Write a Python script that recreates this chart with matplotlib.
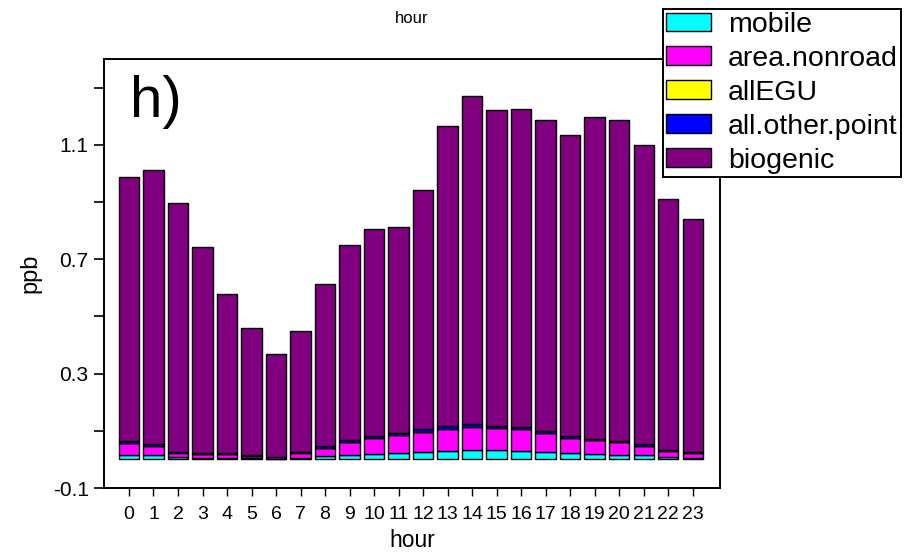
import matplotlib
matplotlib.use("Agg")
import matplotlib.pyplot as plt
import numpy as np
from matplotlib.ticker import FixedLocator

plt.rcParams['font.family'] = ['Liberation Sans', 'DejaVu Sans']

hours = list(range(24))
totals = [0.987, 1.013, 0.896, 0.744, 0.579, 0.458, 0.369, 0.450, 0.614, 0.750,
          0.805, 0.814, 0.941, 1.167, 1.269, 1.223, 1.226, 1.187, 1.133, 1.198,
          1.186, 1.101, 0.909, 0.839]
mobile = [0.016, 0.014, 0.007, 0.006, 0.006, 0.005, 0.003, 0.006, 0.012, 0.016,
          0.020, 0.023, 0.027, 0.030, 0.033, 0.034, 0.030, 0.027, 0.023, 0.020,
          0.017, 0.014, 0.008, 0.006]
area_nonroad = [0.041, 0.034, 0.017, 0.013, 0.012, 0.007, 0.004, 0.015, 0.029, 0.044,
                0.054, 0.062, 0.070, 0.077, 0.081, 0.075, 0.075, 0.065, 0.051, 0.047,
                0.043, 0.034, 0.021, 0.016]
allEGU = [0.0005] * 24
all_other_point = [0.006, 0.004, 0.003, 0.003, 0.003, 0.002, 0.002, 0.003, 0.004, 0.006,
                   0.007, 0.007, 0.008, 0.010, 0.009, 0.008, 0.008, 0.007, 0.007, 0.005,
                   0.005, 0.004, 0.003, 0.002]
biogenic = [t - m - a - e - o for t, m, a, e, o in
            zip(totals, mobile, area_nonroad, allEGU, all_other_point)]

series = [("mobile", mobile, "#00FFFF"),
          ("area.nonroad", area_nonroad, "#FF00FF"),
          ("allEGU", allEGU, "#FFFF00"),
          ("all.other.point", all_other_point, "#0000FF"),
          ("biogenic", biogenic, "#800080")]

fig = plt.figure(figsize=(9.13, 5.52), dpi=100)
ax = fig.add_axes([104/913, 1-488/552, (720-104)/913, (488-59)/552])

bottom = np.zeros(24)
handles = []
for name, vals, col in series:
    b = ax.bar(hours, vals, bottom=bottom, width=0.82, color=col,
               edgecolor='black', linewidth=1.0, label=name)
    handles.append(b)
    bottom += np.array(vals)

ax.set_xlim(-1.02, 24.12)
ax.set_ylim(-0.1, 1.4)
ax.set_xticks(hours)
ax.set_xticklabels([str(h) for h in hours])
ax.set_yticks([-0.1, 0.3, 0.7, 1.1])
ax.set_yticklabels(["-0.1", "0.3", "0.7", "1.1"])
ax.yaxis.set_minor_locator(FixedLocator([0.1, 0.5, 0.9, 1.3]))
ax.tick_params(axis='y', which='both', direction='out', length=7, width=1.2,
               labelsize=15, pad=4)
ax.tick_params(axis='x', direction='out', length=6, width=1.0, labelsize=14, pad=7)
for s in ax.spines.values():
    s.set_linewidth(1.4)

ax.set_xlabel("hour", fontsize=16.5, labelpad=4)
ax.set_ylabel("ppb", fontsize=17, labelpad=8)
ax.set_title("hour", fontsize=12, pad=26)
ax.text(0.042, 0.865, "h)", transform=ax.transAxes, fontsize=42, ha='left',
        va='baseline')

leg = fig.legend(handles=handles, labels=[s[0] for s in series],
                 loc='upper left', bbox_to_anchor=(663/913, 1-9/552),
                 fontsize=20.5, frameon=True, fancybox=False, shadow=False,
                 handlelength=1.6, handleheight=0.63, handletextpad=0.58,
                 labelspacing=0.28, borderpad=0.1, borderaxespad=0)
leg.get_frame().set_edgecolor('black')
leg.get_frame().set_linewidth(1.4)
leg.get_frame().set_alpha(1)

fig.savefig("out.png", dpi=100)
